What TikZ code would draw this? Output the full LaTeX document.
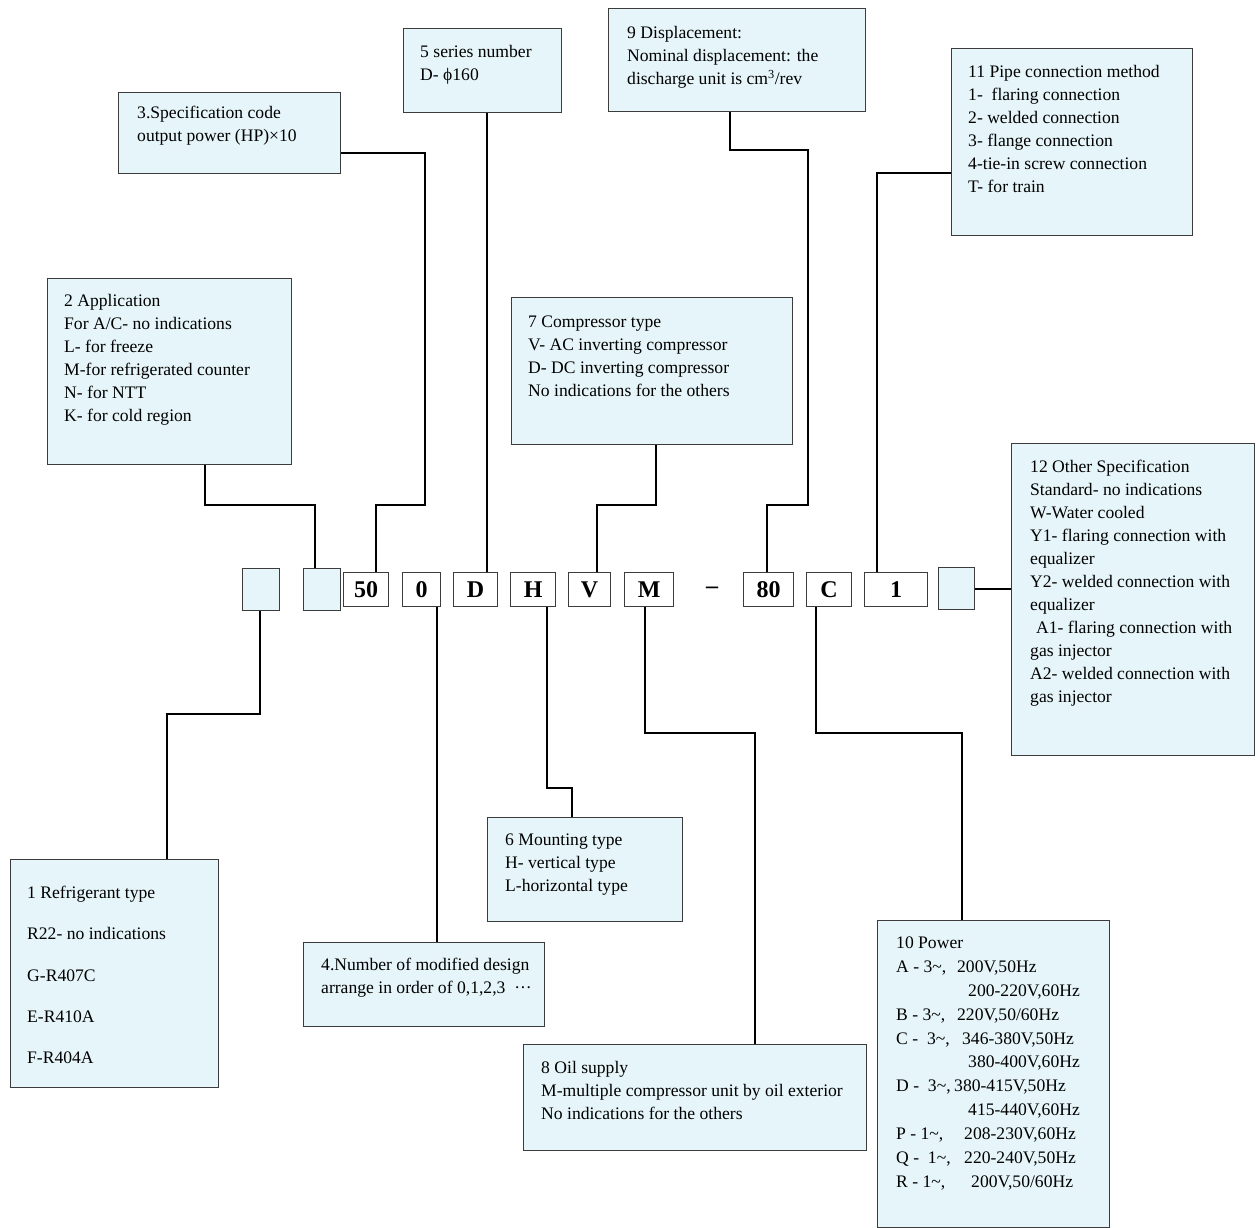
\documentclass[tikz,border=0pt]{standalone}
\usepackage{fontspec}
\setmainfont{Liberation Serif}
\definecolor{boxfill}{RGB}{230,245,249}
\definecolor{boxline}{RGB}{60,60,60}
\newcommand{\tf}{\rule{0pt}{13.2pt}}
\tikzset{
  x=1pt, y=-1pt,
  desc/.style={draw=boxline, fill=boxfill, line width=1.3pt, anchor=north west, inner sep=0pt},
  txt/.style={anchor=north west, inner sep=0pt, align=left, font=\fontsize{17.6}{23}\selectfont},
  code/.style={draw=boxline, fill=white, line width=1.3pt, anchor=north west, inner sep=0pt, font=\fontsize{24}{24}\selectfont\bfseries},
  blank/.style={draw=boxline, fill=boxfill, line width=1.3pt, anchor=north west, inner sep=0pt},
  conn/.style={draw=black, line width=2pt}
}
\begin{document}
\begin{tikzpicture}
\useasboundingbox (0,0) rectangle (1258,1228);
\fill[white] (0,0) rectangle (1258,1228);

% ---- code row ----
\node[blank, minimum width=37, minimum height=42] (k1) at (242,568) {};
\node[blank, minimum width=37, minimum height=42] (k2) at (303,568) {};
\node[code, minimum width=45, minimum height=34] (k50) at (343,572) {50};
\node[code, minimum width=38, minimum height=34] (k0) at (402,572) {0};
\node[code, minimum width=44, minimum height=34] (kD) at (453,572) {D};
\node[code, minimum width=45, minimum height=34] (kH) at (510,572) {H};
\node[code, minimum width=42, minimum height=34] (kV) at (568,572) {V};
\node[code, minimum width=49, minimum height=34] (kM) at (624,572) {M};
\node[inner sep=0pt, font=\fontsize{24}{24}\selectfont\bfseries] (dash) at (712,590) {–};
\node[code, minimum width=50, minimum height=34] (k80) at (743,572) {80};
\node[code, minimum width=45, minimum height=34] (kC) at (806,572) {C};
\node[code, minimum width=63, minimum height=34] (kone) at (864,572) {1};
\node[blank, minimum width=36, minimum height=42] (k3) at (938,567) {};

% ---- description boxes ----
\node[desc, minimum width=208, minimum height=228] (b1) at (10,859) {};
\node[txt] (t1) at (27,885) {\tf 1 Refrigerant type\\[18.3pt]\tf R22- no indications\\[18.3pt]\tf G-R407C\\[18.3pt]\tf E-R410A\\[18.3pt]\tf F-R404A};

\node[desc, minimum width=244, minimum height=186] (b2) at (47,278) {};
\node[txt] (t2) at (64,293) {\tf 2 Application\\For A/C- no indications\\L- for freeze\\M-for refrigerated counter\\N- for NTT\\K- for cold region};

\node[desc, minimum width=222, minimum height=81] (b3) at (118,92) {};
\node[txt] (t3) at (137,105) {\tf 3.Specification code\\output power (HP)×10};

\node[desc, minimum width=241, minimum height=84] (b4) at (303,942) {};
\node[txt] (t4) at (321,957) {\tf 4.Number of modified design\\arrange in order of 0,1,2,3\ \ ···};

\node[desc, minimum width=158, minimum height=84] (b5) at (403,28) {};
\node[txt] (t5) at (420,44) {\tf 5 series number\\D- ϕ160};

\node[desc, minimum width=195, minimum height=104] (b6) at (487,817) {};
\node[txt] (t6) at (505,832) {\tf 6 Mounting type\\H- vertical type\\L-horizontal type};

\node[desc, minimum width=281, minimum height=147] (b7) at (511,297) {};
\node[txt] (t7) at (528,314) {\tf 7 Compressor type\\V- AC inverting compressor\\D- DC inverting compressor\\No indications for the others};

\node[desc, minimum width=343, minimum height=106] (b8) at (523,1044) {};
\node[txt] (t8) at (541,1060) {\tf 8 Oil supply\\M-multiple compressor unit by oil exterior\\No indications for the others};

\node[desc, minimum width=257, minimum height=103] (b9) at (608,8) {};
\node[txt] (t9) at (627,25) {\tf 9 Displacement:\\Nominal displacement: the\\discharge unit is cm\textsuperscript{3}/rev};

\node[desc, minimum width=232, minimum height=307] (b10) at (877,920) {};
\node[txt, font=\fontsize{17.6}{23.9}\selectfont] (t10) at (896,935) {\tf 10 Power\\
\makebox[61pt][l]{A - 3\textasciitilde,}200V,50Hz\\
\hspace*{72pt}200-220V,60Hz\\
\makebox[61pt][l]{B - 3\textasciitilde,}220V,50/60Hz\\
\makebox[66pt][l]{C -\ \ 3\textasciitilde,}346-380V,50Hz\\
\hspace*{72pt}380-400V,60Hz\\
\makebox[58pt][l]{D -\ \ 3\textasciitilde,}380-415V,50Hz\\
\hspace*{72pt}415-440V,60Hz\\
\makebox[68pt][l]{P - 1\textasciitilde,}208-230V,60Hz\\
\makebox[68pt][l]{Q -\ \ 1\textasciitilde,}220-240V,50Hz\\
\makebox[75pt][l]{R - 1\textasciitilde,}200V,50/60Hz};

\node[desc, minimum width=241, minimum height=187] (b11) at (951,48) {};
\node[txt] (t11) at (968,64) {\tf 11 Pipe connection method\\1-\ \ flaring connection\\2- welded connection\\3- flange connection\\4-tie-in screw connection\\T- for train};

\node[desc, minimum width=243, minimum height=312] (b12) at (1011,443) {};
\node[txt] (t12) at (1030,459) {\tf 12 Other Specification\\Standard- no indications\\W-Water cooled\\Y1- flaring connection with\\equalizer\\Y2- welded connection with\\equalizer\\\hspace*{6pt}A1- flaring connection with\\gas injector\\A2- welded connection with\\gas injector};

% ---- connectors ----
\draw[conn] (k1.south -| 260,0) -- (260,714) -- (167,714) -- (b1.north -| 167,0);
\draw[conn] (b2.south -| 205,0) -- (205,505) -- (315,505) -- (k2.north -| 315,0);
\draw[conn] (b3.east |- 0,153) -- (425,153) -- (425,505) -- (376,505) -- (k50.north -| 376,0);
\draw[conn] (b5.south -| 487,0) -- (kD.north -| 487,0);
\draw[conn] (b9.south -| 730,0) -- (730,150) -- (808,150) -- (808,505) -- (767,505) -- (k80.north -| 767,0);
\draw[conn] (b11.west |- 0,173) -- (877,173) -- (kone.north -| 877,0);
\draw[conn] (b7.south -| 656,0) -- (656,505) -- (597,505) -- (kV.north -| 597,0);
\draw[conn] (kH.south -| 547,0) -- (547,788) -- (572,788) -- (b6.north -| 572,0);
\draw[conn] (kM.south -| 645,0) -- (645,733) -- (755,733) -- (b8.north -| 755,0);
\draw[conn] (kC.south -| 816,0) -- (816,733) -- (962,733) -- (b10.north -| 962,0);
\draw[conn] (k0.south -| 437,0) -- (b4.north -| 437,0);
\draw[conn] (k3.east) -- (k3.east -| b12.west);
\end{tikzpicture}
\end{document}
